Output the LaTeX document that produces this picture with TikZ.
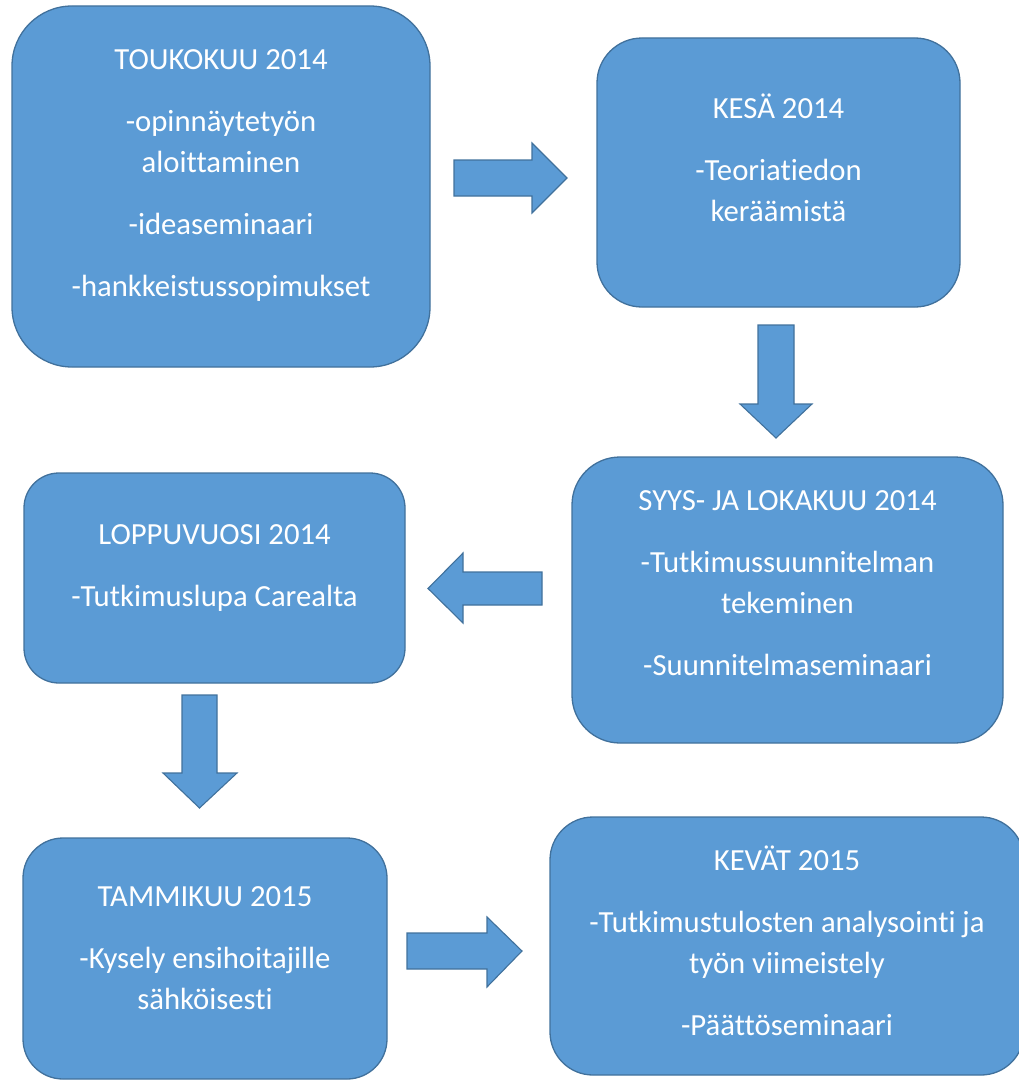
\documentclass[tikz,border=0pt]{standalone}
\usepackage{fontspec}
\setmainfont{Carlito}[Ligatures=NoCommon]
\usepackage{tikz}
\usetikzlibrary{positioning}
\definecolor{boxblue}{HTML}{5B9BD5}
\definecolor{boxedge}{HTML}{41719C}

\tikzset{
  phase/.style={draw=boxedge, fill=boxblue, line width=1.3pt, inner sep=0pt},
  phasetext/.style={text=white, align=center, inner sep=0pt, font=\fontsize{30.7}{41}\selectfont},
  blockarrow/.style={draw=boxedge, fill=boxblue, line width=1.1pt, line join=miter}
}

\begin{document}
\begin{tikzpicture}[x=1pt,y=-1pt]
  \useasboundingbox (0,0) rectangle (1019,1081);

  % phases
  \node[phase, minimum width=418pt, minimum height=361pt, rounded corners=60pt] (toukokuu) at (221,186.5) {};
  \node[phase, minimum width=363pt, minimum height=269pt, rounded corners=45pt] (kesa) at (778.5,172.5) {};
  \node[phase, minimum width=431pt, minimum height=286pt, rounded corners=48pt] (syys) at (787.5,600) {};
  \node[phase, minimum width=381pt, minimum height=210pt, rounded corners=35pt] (loppuvuosi) at (214.5,578) {};
  \node[phase, minimum width=364pt, minimum height=241pt, rounded corners=40pt] (tammikuu) at (205,958.5) {};
  \node[phase, minimum width=474pt, minimum height=258pt, rounded corners=43pt] (kevat) at (787,946) {};

  \node[phasetext, below=35.3pt of toukokuu.north] (toukokuu-txt)
    {\strut TOUKOKUU 2014\\[21pt] -opinnäytetyön\\ aloittaminen\\[21pt] -ideaseminaari\\[21pt] -hankkeistussopimukset};
  \node[phasetext, below=52.3pt of kesa.north] (kesa-txt)
    {\strut KESÄ 2014\\[21pt] -Teoriatiedon\\ keräämistä};
  \node[phasetext, below=25.3pt of syys.north] (syys-txt)
    {\strut SYYS- JA LOKAKUU 2014\\[21pt] -Tutkimussuunnitelman\\ tekeminen\\[21pt] -Suunnitelmaseminaari};
  \node[phasetext, below=43.3pt of loppuvuosi.north] (loppuvuosi-txt)
    {\strut LOPPUVUOSI 2014\\[21pt] -Tutkimuslupa Carealta};
  \node[phasetext, below=40.3pt of tammikuu.north] (tammikuu-txt)
    {\strut TAMMIKUU 2015\\[21pt] -Kysely ensihoitajille\\ sähköisesti};
  \node[phasetext, below=25.3pt of kevat.north] (kevat-txt)
    {\strut KEVÄT 2015\\[21pt] -Tutkimustulosten analysointi ja\\ työn viimeistely\\[21pt] -Päättöseminaari};

  % block arrows
  \draw[blockarrow] (454,160)--++(78,0)--++(0,-17)--(567,178)--(532,213)--++(0,-17)--(454,196)--cycle;
  \draw[blockarrow] (758,325)--++(36,0)--++(0,79)--++(18,0)--(776,438)--(740,404)--++(18,0)--cycle;
  \draw[blockarrow] (542,572)--++(-79,0)--++(0,-19)--(428,588.5)--(463,623)--++(0,-18)--(542,605)--cycle;
  \draw[blockarrow] (182,695)--++(35,0)--++(0,78)--++(20,0)--(199.5,808)--(163,773)--++(19,0)--cycle;
  \draw[blockarrow] (407,933)--++(80,0)--++(0,-16)--(522,951)--(487,987)--++(0,-18)--(407,969)--cycle;
\end{tikzpicture}
\end{document}
